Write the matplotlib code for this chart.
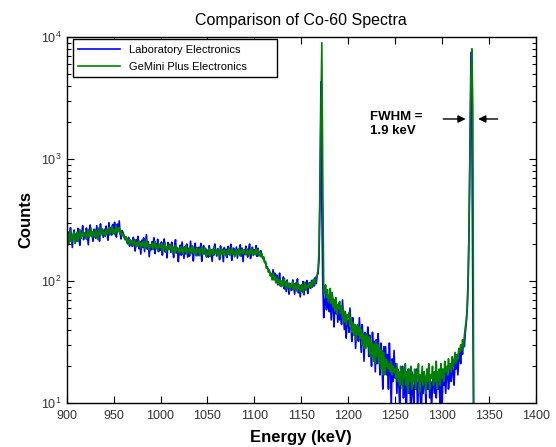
import numpy as np
import matplotlib
matplotlib.use("Agg")
import matplotlib.pyplot as plt
from matplotlib.ticker import LogLocator, FixedLocator

plt.rcParams['font.family'] = ['Liberation Sans', 'DejaVu Sans']

# Energy channels (keV), 1 keV steps
energy_start = 900
energy_stop = 1334

lab_counts = [
    228, 196, 252, 210, 274, 232, 188, 244, 262, 214,
    242, 212, 270, 224, 196, 256, 234, 284, 218, 248,
    228, 272, 242, 198, 256, 288, 234, 250, 212, 266,
    252, 224, 284, 236, 266, 212, 294, 244, 260, 228,
    266, 234, 282, 250, 216, 300, 244, 272, 238, 290,
    251, 303, 267, 229, 293, 257, 311, 245, 221, 259,
    251, 237, 228, 222, 214, 202, 228, 193, 217, 203,
    192, 228, 202, 176, 218, 194, 232, 184, 210, 166,
    216, 188, 226, 174, 204, 240, 182, 210, 158, 198,
    180, 210, 196, 226, 168, 202, 184, 220, 174, 198,
    179, 209, 163, 197, 221, 173, 191, 155, 207, 183,
    200, 172, 208, 182, 156, 194, 218, 170, 186, 144,
    173, 197, 163, 209, 179, 153, 191, 167, 201, 157,
    184, 160, 212, 170, 194, 146, 180, 204, 162, 188,
    161, 189, 171, 203, 145, 177, 195, 167, 185, 157,
    179, 157, 195, 167, 179, 145, 181, 163, 201, 171,
    160, 184, 176, 150, 194, 168, 180, 144, 188, 170,
    182, 156, 192, 166, 178, 200, 148, 174, 186, 162,
    176, 190, 154, 182, 168, 198, 160, 186, 144, 180,
    165, 193, 172, 157, 183, 201, 153, 177, 189, 163,
    181, 167, 195, 159, 185, 171, 163, 177, 159, 156,
    156, 143, 141, 128, 127, 124, 120, 116, 115, 104,
    124, 105, 116, 97, 112, 93, 103, 116, 91, 99,
    92, 108, 86, 98, 82, 102, 90, 78, 96, 86,
    84, 102, 92, 78, 96, 88, 104, 80, 90, 74,
    93, 83, 99, 77, 95, 87, 101, 79, 91, 97,
    87, 101, 89, 103, 91, 107, 95, 111, 115, 150,
    480, 4300, 420, 95, 50, 66, 82, 58, 74, 62,
    56, 74, 48, 80, 60, 42, 70, 54, 64, 46,
    66, 48, 60, 44, 70, 52, 40, 56, 34, 46,
    48, 38, 60, 42, 32, 50, 36, 44, 28, 40,
    42, 32, 50, 36, 26, 44, 34, 22, 38, 30,
    30, 42, 24, 36, 28, 20, 38, 26, 32, 18,
    33, 21, 37, 27, 17, 31, 23, 13, 29, 19,
    29, 17, 25, 13, 31, 19, 9, 23, 15, 27,
    16, 21, 12, 19, 15, 9, 18, 14, 20, 11,
    17, 13, 8, 16, 19, 12, 15, 7, 18, 13,
    10, 16, 13, 19, 9, 14, 17, 11, 8, 15,
    12, 18, 14, 10, 16, 13, 19, 11, 15, 9,
    14, 17, 12, 16, 11, 18, 13, 15, 10, 19,
    8, 16, 14, 18, 12, 17, 20, 13, 16, 19,
    15, 21, 18, 14, 22, 19, 24, 17, 23, 26,
    21, 28, 25, 32, 29, 38, 45, 62, 110, 260,
    1400, 7500, 1800, 60, 4,
]

gemini_counts = [
    215, 243, 201, 231, 259, 209, 237, 225, 251, 203,
    223, 251, 211, 238, 265, 221, 236, 255, 233, 240,
    250, 220, 234, 264, 228, 242, 272, 230, 254, 238,
    229, 263, 245, 219, 255, 277, 235, 251, 267, 241,
    248, 232, 266, 244, 260, 274, 238, 256, 282, 246,
    266, 240, 256, 282, 248, 264, 274, 242, 258, 236,
    244, 229, 218, 232, 209, 223, 203, 218, 198, 214,
    212, 196, 220, 204, 190, 208, 194, 214, 200, 186,
    206, 194, 212, 184, 200, 218, 192, 204, 180, 196,
    191, 205, 181, 199, 213, 185, 197, 177, 203, 189,
    189, 201, 177, 195, 183, 205, 173, 191, 181, 197,
    184, 198, 174, 190, 180, 168, 196, 178, 188, 172,
    186, 170, 192, 178, 164, 188, 174, 196, 168, 180,
    175, 189, 165, 181, 195, 169, 183, 173, 161, 187,
    173, 183, 161, 179, 191, 165, 177, 187, 169, 159,
    175, 166, 186, 158, 174, 182, 164, 192, 168, 178,
    172, 162, 182, 168, 156, 186, 174, 164, 180, 168,
    160, 178, 168, 184, 162, 174, 188, 166, 176, 158,
    170, 180, 164, 176, 186, 160, 172, 182, 168, 178,
    174, 164, 184, 170, 160, 180, 168, 188, 172, 162,
    178, 164, 184, 168, 180, 160, 174, 158, 168, 152,
    158, 141, 145, 127, 131, 118, 123, 110, 115, 102,
    116, 102, 110, 97, 107, 95, 103, 92, 101, 90,
    101, 91, 105, 95, 87, 99, 89, 95, 83, 93,
    91, 99, 85, 95, 89, 83, 97, 87, 93, 81,
    86, 94, 80, 90, 98, 84, 92, 88, 96, 90,
    96, 89, 100, 93, 104, 96, 108, 112, 125, 180,
    600, 2500, 9000, 700, 89, 79, 93, 73, 85, 67,
    73, 87, 65, 79, 61, 71, 57, 73, 53, 63,
    60, 68, 54, 63, 50, 58, 46, 55, 44, 53,
    50, 55, 42, 50, 38, 46, 36, 44, 33, 41,
    44, 36, 42, 34, 40, 30, 37, 28, 36, 28,
    37, 29, 35, 25, 33, 24, 31, 22, 30, 21,
    32, 24, 30, 21, 28, 19, 27, 17, 26, 17,
    23, 20, 22, 19, 21, 18, 22, 17, 20, 18,
    19, 16, 21, 15, 18, 14, 20, 17, 13, 19,
    16, 21, 14, 18, 12, 19, 15, 20, 13, 17,
    15, 19, 13, 18, 16, 21, 12, 17, 15, 20,
    14, 18, 16, 12, 19, 15, 21, 13, 17, 16,
    20, 14, 18, 15, 22, 13, 17, 19, 14, 21,
    16, 19, 15, 22, 18, 20, 17, 23, 19, 21,
    18, 24, 20, 22, 26, 21, 25, 23, 28, 26,
    30, 27, 33, 29, 36, 42, 48, 58, 90, 350,
    1500, 4800, 8000, 2500, 4,
]

series_labels = ["Laboratory Electronics", "GeMini Plus Electronics"]
x_ticks = [900, 950, 1000, 1050, 1100, 1150, 1200, 1250, 1300, 1350, 1400]
y_ticks = [10, 100, 1000, 10000]
annotation_text = "FWHM =\n1.9 keV"

energy = np.arange(energy_start, energy_stop + 1)

W, H = 556, 447
fig = plt.figure(figsize=(W / 100, H / 100), dpi=100)
ax = fig.add_axes([66.7 / W, 1 - 403 / H, 469 / W, 366 / H])

ax.plot(energy, lab_counts, color='#0000FF', lw=1.2, label=series_labels[0])
ax.plot(energy, gemini_counts, color='#008000', lw=1.2, label=series_labels[1])

ax.set_yscale('log')
ax.set_xlim(900, 1400)
ax.set_ylim(10, 10000)
ax.xaxis.set_major_locator(FixedLocator(x_ticks))
ax.set_yticks(y_ticks)
ax.yaxis.set_minor_locator(LogLocator(base=10, subs=np.arange(2, 10)))
ax.tick_params(which='both', direction='in', top=True, right=True, labelsize=9,
               labelcolor='#333333', width=0.8)
ax.tick_params(which='major', length=5)
ax.tick_params(which='minor', length=3)
ax.tick_params(axis='x', pad=5)
for s in ax.spines.values():
    s.set_linewidth(1.0)

ax.set_title("Comparison of Co-60 Spectra", fontsize=11.5, pad=8.5)
ax.set_xlabel("Energy (keV)", fontsize=12, fontweight='bold', labelpad=6)
ax.set_ylabel("Counts", fontsize=12, fontweight='bold', labelpad=6)

leg = ax.legend(loc='upper left', bbox_to_anchor=(0.0128, 0.9836, 0.435, 0.01),
                mode='expand', borderaxespad=0, fontsize=8, handlelength=3.8,
                fancybox=False, frameon=True, edgecolor='black', framealpha=1,
                borderpad=0.5, labelspacing=0.6)
leg.get_frame().set_linewidth(1.0)

ax.text(1223.3, 1935, annotation_text, fontsize=9.5, fontweight='bold',
        ha='left', va='center', linespacing=1.15)
ax.annotate('', xy=(1328.3, 2128), xytext=(1298.5, 2128),
            arrowprops=dict(arrowstyle='-|>', color='black', lw=1.0, mutation_scale=11))
ax.annotate('', xy=(1335.7, 2128), xytext=(1362.4, 2128),
            arrowprops=dict(arrowstyle='-|>', color='black', lw=1.0, mutation_scale=11))

fig.savefig('out.png', dpi=100)
